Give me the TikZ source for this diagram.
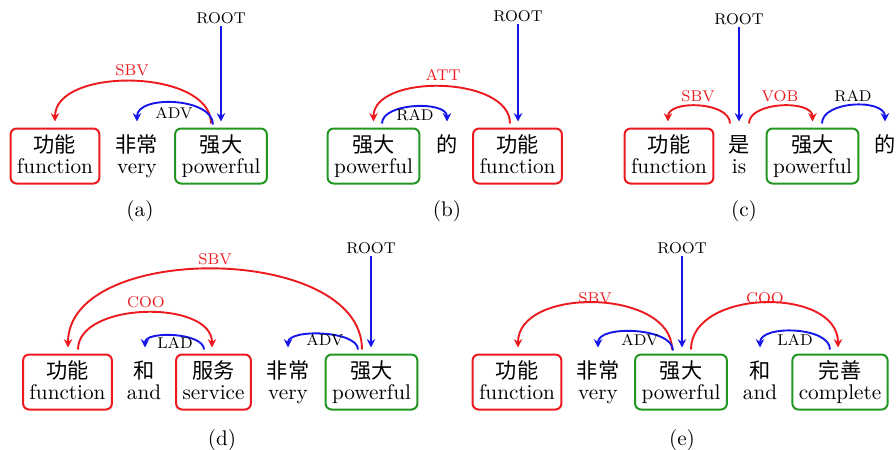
\documentclass[tikz,border=0pt]{standalone}
\usepackage{fontspec}
\newfontfamily\cjk{Noto Sans CJK SC}
\usetikzlibrary{arrows.meta}
\definecolor{depred}{RGB}{236,26,30}
\definecolor{depblue}{RGB}{22,22,235}
\definecolor{depgreen}{RGB}{34,150,34}
% a word: Chinese on top, English gloss below, fixed line geometry
\newcommand\wpair[2]{\vbox{\offinterlineskip\halign{\hfil##\hfil\cr
  \vrule width0pt height10pt depth3pt{\cjk #1}\cr
  \vrule width0pt height7.5pt depth3pt #2\cr}}}
\begin{document}
\begin{tikzpicture}[x=0.5pt,y=-0.5pt,
  word/.style={inner xsep=3.2pt,inner ysep=2pt,rounded corners=3pt,line width=1pt,
    font=\fontsize{10.6}{12}\selectfont},
  headbox/.style={word,draw=depgreen},
  depbox/.style={word,draw=depred},
  plain/.style={word},
  arclbl/.style={inner sep=1pt,font=\fontsize{7.8}{9}\selectfont},
  redlbl/.style={arclbl,text=depred},
  rootlbl/.style={inner sep=1pt,font=\fontsize{7.8}{9}\selectfont},
  caption/.style={inner sep=1pt,font=\fontsize{10.6}{12}\selectfont},
  tip/.style={-{Stealth[length=4.2pt,width=4.2pt,inset=1.4pt]}},
  redarc/.style={tip,draw=depred,line width=0.95pt},
  bluearc/.style={tip,draw=depblue,line width=0.95pt},
]
\useasboundingbox (0,0) rectangle (896,450);

% ---------------- (a) ----------------
\node[depbox]  (a1) at (55,156)  {\wpair{功能}{function}};
\node[plain]   (a2) at (137,156) {\wpair{非常}{very}};
\node[headbox] (a3) at (221,156) {\wpair{强大}{powerful}};
\node[rootlbl] (ra) at (221,18) {ROOT};
\draw[bluearc] (ra.south) -- ([shift={(0,-6)}]a3.north);
\draw[redarc] ([shift={(-10,-4)}]a3.north) .. controls +(0,-55) and +(0,-55) .. ([shift={(0,-6)}]a1.north);
\draw[bluearc] ([shift={(-8,-3)}]a3.north) .. controls +(0,-27) and +(0,-27) .. ([shift={(0,-6)}]a2.north);
\node[redlbl] (la1) at (132,70) {SBV};
\node[arclbl] (la2) at (174,113) {ADV};
\node[caption] (ca) at (140,211) {(a)};

% ---------------- (b) ----------------
\node[headbox] (b1) at (373.5,156) {\wpair{强大}{powerful}};
\node[plain]   (b2) at (447,156)   {\wpair{的}{}};
\node[depbox]  (b3) at (517.5,156) {\wpair{功能}{function}};
\node[rootlbl] (rb) at (518,16) {ROOT};
\draw[bluearc] (rb.south) -- ([shift={(0.5,-6)}]b3.north);
\draw[redarc] ([shift={(-7.5,-4)}]b3.north) .. controls +(0,-48) and +(0,-48) .. ([shift={(0,-6)}]b1.north);
\draw[bluearc] ([shift={(8.5,-4)}]b1.north) .. controls +(0,-21) and +(0,-21) .. ([shift={(0,-6)}]b2.north);
\node[redlbl] (lb1) at (443,75) {ATT};
\node[arclbl] (lb2) at (415,115) {RAD};
\node[caption] (cb) at (447,211) {(b)};

% ---------------- (c) ----------------
\node[depbox]  (c1) at (669,156)   {\wpair{功能}{function}};
\node[plain]   (c2) at (739,156)   {\wpair{是}{is}};
\node[headbox] (c3) at (812.5,156) {\wpair{强大}{powerful}};
\node[plain]   (c4) at (885,156)   {\wpair{的}{}};
\node[rootlbl] (rc) at (739,19) {ROOT};
\draw[bluearc] (rc.south) -- ([shift={(0,-6)}]c2.north);
\draw[redarc] ([shift={(-9,-4)}]c2.north) .. controls +(0,-22) and +(0,-22) .. ([shift={(-1,-6)}]c1.north);
\draw[redarc] ([shift={(10,-4)}]c2.north) .. controls +(0,-22) and +(0,-22) .. ([shift={(0,-6)}]c3.north);
\draw[bluearc] ([shift={(9.5,-4)}]c3.north) .. controls +(0,-23) and +(0,-23) .. ([shift={(0,-6)}]c4.north);
\node[redlbl] (lc1) at (698,96) {SBV};
\node[redlbl] (lc2) at (780,96) {VOB};
\node[arclbl] (lc3) at (853,96) {RAD};
\node[caption] (cc) at (744,211) {(c)};

% ---------------- (d) ----------------
\node[depbox]  (d1) at (67.5,382)  {\wpair{功能}{function}};
\node[plain]   (d2) at (144,382)   {\wpair{和}{and}};
\node[depbox]  (d3) at (213.5,382) {\wpair{服务}{service}};
\node[plain]   (d4) at (288,382)   {\wpair{非常}{very}};
\node[headbox] (d5) at (371.5,382) {\wpair{强大}{powerful}};
\node[rootlbl] (rd) at (371,248) {ROOT};
\draw[bluearc] (rd.south) -- ([shift={(-0.5,-6)}]d5.north);
\draw[redarc] ([shift={(-9.5,-4)}]d5.north) .. controls +(0,-106) and +(0,-106) .. ([shift={(0.5,-6)}]d1.north);
\draw[redarc] ([shift={(10.5,-4)}]d1.north) .. controls +(0,-48) and +(0,-48) .. ([shift={(-1.5,-6)}]d3.north);
\draw[bluearc] ([shift={(-9.5,-4)}]d3.north) .. controls +(0,-17) and +(0,-17) .. ([shift={(1,-6)}]d2.north);
\draw[bluearc] ([shift={(-13.5,-4)}]d5.north) .. controls +(0,-19) and +(0,-19) .. ([shift={(0,-6)}]d4.north);
\node[redlbl] (ld1) at (215,259) {SBV};
\node[redlbl] (ld2) at (146,302) {COO};
\node[arclbl] (ld3) at (175,343) {LAD};
\node[arclbl] (ld4) at (325,340) {ADV};
\node[caption] (cd) at (222,440) {(d)};

% ---------------- (e) ----------------
\node[depbox]  (e1) at (517,382) {\wpair{功能}{function}};
\node[plain]   (e2) at (598,382) {\wpair{非常}{very}};
\node[headbox] (e3) at (681,382) {\wpair{强大}{powerful}};
\node[plain]   (e4) at (760,382) {\wpair{和}{and}};
\node[headbox] (e5) at (840,382) {\wpair{完善}{complete}};
\node[rootlbl] (re) at (682,248) {ROOT};
\draw[bluearc] (re.south) -- ([shift={(1,-6)}]e3.north);
\draw[redarc] ([shift={(-9,-4)}]e3.north) .. controls +(0,-61) and +(0,-61) .. ([shift={(1,-6)}]e1.north);
\draw[bluearc] ([shift={(-8,-3)}]e3.north) .. controls +(0,-23) and +(0,-23) .. ([shift={(0,-6)}]e2.north);
\draw[redarc] ([shift={(10,-4)}]e3.north) .. controls +(0,-61) and +(0,-61) .. ([shift={(-2,-6)}]e5.north);
\draw[bluearc] ([shift={(-10,-4)}]e5.north) .. controls +(0,-23) and +(0,-23) .. ([shift={(0,-6)}]e4.north);
\node[redlbl] (le1) at (595,298) {SBV};
\node[arclbl] (le2) at (640,340) {ADV};
\node[redlbl] (le3) at (765,298) {COO};
\node[arclbl] (le4) at (795,340) {LAD};
\node[caption] (ce) at (682,440) {(e)};
\end{tikzpicture}
\end{document}
